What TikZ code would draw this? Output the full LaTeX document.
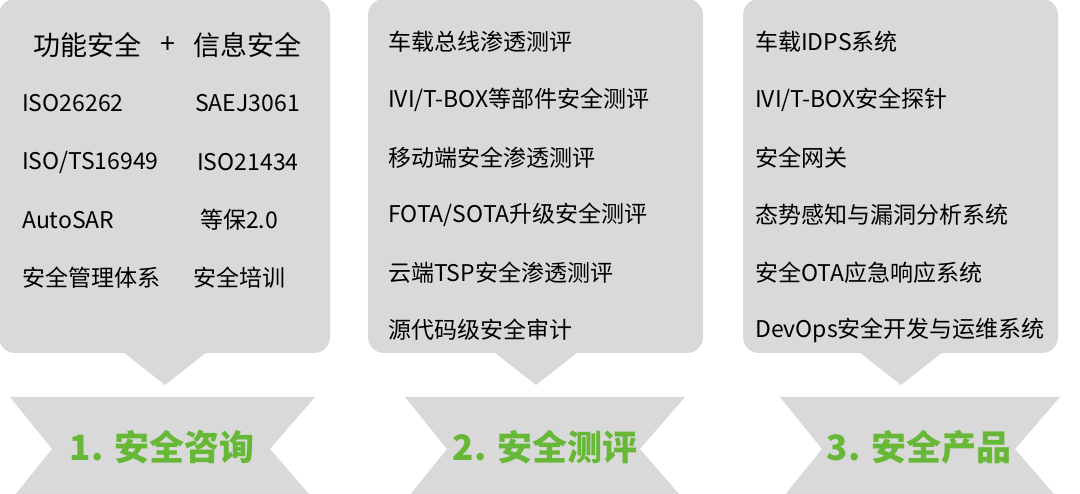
\documentclass[tikz,border=0pt]{standalone}
\usepackage{fontspec}
\setmainfont{Noto Sans CJK SC}
\definecolor{panelgray}{RGB}{217,217,217}
\definecolor{titlegreen}{RGB}{104,184,56}
\tikzset{
    panel/.style={fill=panelgray, rounded corners=16pt},
    item/.style={anchor=west, inner sep=0pt, font=\fontsize{23}{23}\selectfont},
    head/.style={inner sep=0pt, font=\fontsize{27}{27}\selectfont},
    title/.style={inner sep=0pt, text=titlegreen, font=\bfseries\fontsize{35}{35}\selectfont}
}
\begin{document}
\begin{tikzpicture}[x=1pt, y=-1pt]
    \clip (0,0) rectangle (1080,494);

    % Panels
    \foreach \l/\r in {-1/330, 368/703, 743/1058} {
        \fill[panel] (\l,-1) rectangle (\r,353);
    }
    \foreach \c in {165, 536, 901} {
        \fill[panelgray] (\c-42,352) -- (\c+42,352) -- (\c,385) -- cycle;
    }

    % Ribbons
    \foreach \l/\r in {10/315, 405/685, 780/1060} {
        \fill[panelgray] (\l,397) -- (\r,397) -- (\r-45,449) -- (\r,501)
            -- (\l,501) -- (\l+42,449) -- cycle;
    }

    % Consulting
    \node[head] (consult-fs) at (88,45) {功能安全};
    \node[head] (consult-plus) at (168,45) {+};
    \node[head] (consult-is) at (247,45) {信息安全};
    \foreach \i/\y/\a/\x/\b in {1/103/ISO26262/195/SAEJ3061,
                                2/162/{ISO/TS16949}/197/ISO21434,
                                3/220/AutoSAR/200/等保2.0,
                                4/278/安全管理体系/193/安全培训} {
        \node[item] (consult-a\i) at (22,\y) {\a};
        \node[item] (consult-b\i) at (\x,\y) {\b};
    }

    % Testing
    \foreach \t [count=\i] in {车载总线渗透测评, {IVI/T-BOX等部件安全测评},
        移动端安全渗透测评, {FOTA/SOTA升级安全测评}, 云端TSP安全渗透测评,
        源代码级安全审计} {
        \node[item] (test\i) at (388,{42+57.6*(\i-1)}) {\t};
    }

    % Products
    \foreach \t [count=\i] in {车载IDPS系统, {IVI/T-BOX安全探针}, 安全网关,
        态势感知与漏洞分析系统, 安全OTA应急响应系统, DevOps安全开发与运维系统} {
        \node[item] (product\i) at (755,{42+57.6*(\i-1)}) {\t};
    }

    % Titles
    \node[title] (consult) at (162,447) {1. 安全咨询};
    \node[title] (test) at (545,447) {2. 安全测评};
    \node[title] (product) at (919,447) {3. 安全产品};
\end{tikzpicture}
\end{document}
